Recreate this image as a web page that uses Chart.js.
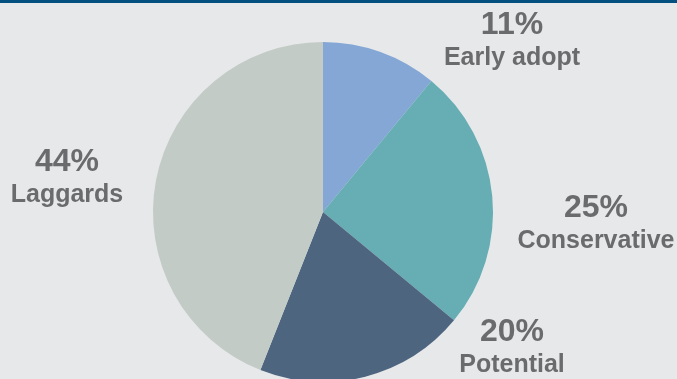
<!DOCTYPE html>
<html>
<head>
<meta charset="utf-8">
<script src="https://cdn.jsdelivr.net/npm/chart.js@4/dist/chart.umd.min.js"></script>
<style>
  html, body { margin: 0; padding: 0; }
  body { width: 677px; height: 379px; overflow: hidden; background: #e7e8ea; position: relative; }
  #topbar { position: absolute; left: 0; top: 0; width: 677px; height: 3px; background: #01507f; z-index: 2; }
  #wrap { position: absolute; left: 0; top: 0; width: 677px; height: 400px; }
</style>
</head>
<body>
<div id="topbar"></div>
<div id="wrap"><canvas id="c" width="677" height="400"></canvas></div>
<script>
// Segments, clockwise from twelve o'clock
const categories = ["Early adopt", "Conservative", "Potential", "Laggards"];
const shares = [11, 25, 20, 44];
const sliceColors = ["#84a7d5", "#66adb4", "#4e6580", "#c2cbc6"];

// Where each callout sits (canvas pixels, centre of the text block)
const calloutAnchors = [
  { x: 512, y: 25 },
  { x: 596, y: 208 },
  { x: 512, y: 332 },
  { x: 67, y: 162 }
];

const calloutPlugin = {
  id: "callouts",
  afterDraw(chart) {
    const ctx = chart.ctx;
    const ds = chart.data.datasets[0];
    ctx.save();
    ctx.fillStyle = "#6a6b6d";
    ctx.textAlign = "center";
    ctx.textBaseline = "middle";
    chart.data.labels.forEach((name, i) => {
      const a = calloutAnchors[i];
      ctx.font = "bold 32px 'Liberation Sans', Arial, sans-serif";
      ctx.fillText(ds.data[i] + "%", a.x, a.y);
      ctx.font = "bold 25px 'Liberation Sans', Arial, sans-serif";
      ctx.fillText(name, a.x, a.y + 33);
    });
    ctx.restore();
  }
};

new Chart(document.getElementById("c"), {
  type: "pie",
  data: {
    labels: categories,
    datasets: [{
      data: shares,
      backgroundColor: sliceColors,
      borderWidth: 0
    }]
  },
  options: {
    responsive: false,
    animation: false,
    layout: { padding: { top: 42, bottom: 18, left: 153, right: 184 } },
    plugins: {
      legend: { display: false },
      tooltip: { enabled: false }
    }
  },
  plugins: [calloutPlugin]
});
</script>
</body>
</html>
